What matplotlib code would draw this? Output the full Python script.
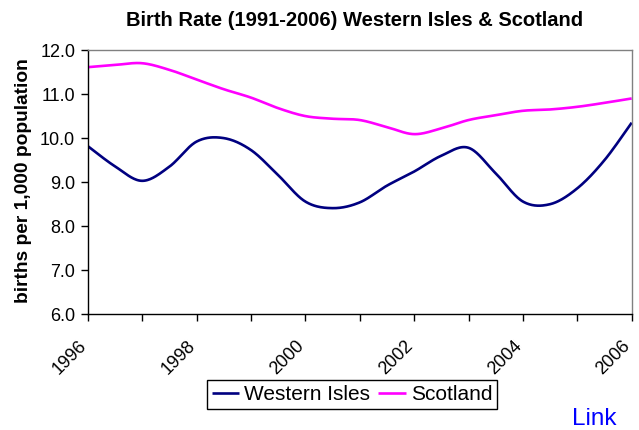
import numpy as np
import matplotlib
matplotlib.use("Agg")
import matplotlib.pyplot as plt
from matplotlib.transforms import ScaledTranslation

plt.rcParams['font.family'] = ['Liberation Sans', 'DejaVu Sans']

# ---- data (half-year readings) ----
years = [1996.0, 1996.5, 1997.0, 1997.5, 1998.0, 1998.5, 1999.0, 1999.5,
         2000.0, 2000.5, 2001.0, 2001.5, 2002.0, 2002.5, 2003.0, 2003.5,
         2004.0, 2004.5, 2005.0, 2005.5, 2006.0]
western_isles = [9.82, 9.36, 9.03, 9.35, 9.92, 10.00, 9.73, 9.16,
                 8.56, 8.41, 8.54, 8.92, 9.24, 9.60, 9.78, 9.20,
                 8.56, 8.50, 8.86, 9.50, 10.35]
scotland = [11.61, 11.66, 11.70, 11.55, 11.33, 11.11, 10.92, 10.68,
            10.50, 10.44, 10.41, 10.25, 10.09, 10.22, 10.41, 10.52,
            10.62, 10.65, 10.71, 10.80, 10.90]
tick_years = list(range(1996, 2007))
tick_labels = [str(y) if (y - 1996) % 2 == 0 else "" for y in tick_years]
y_ticks = [6.0, 7.0, 8.0, 9.0, 10.0, 11.0, 12.0]
title = "Birth Rate (1991-2006) Western Isles & Scotland"
ylabel = "births per 1,000 population"
series_names = ["Western Isles", "Scotland"]


def smooth(x, y, n=30):
    """Catmull-Rom rendering of a line through the given points."""
    x = np.asarray(x, float)
    y = np.asarray(y, float)
    px = np.concatenate([[x[0]], x, [x[-1]]])
    py = np.concatenate([[y[0]], y, [y[-1]]])
    xs, ys = [], []
    t = np.linspace(0, 1, n, endpoint=False)
    for i in range(1, len(px) - 2):
        for p, out in ((px, xs), (py, ys)):
            p0, p1, p2, p3 = p[i - 1], p[i], p[i + 1], p[i + 2]
            out.extend(0.5 * ((2 * p1) + (-p0 + p2) * t +
                              (2 * p0 - 5 * p1 + 4 * p2 - p3) * t ** 2 +
                              (-p0 + 3 * p1 - 3 * p2 + p3) * t ** 3))
    xs.append(x[-1])
    ys.append(y[-1])
    return np.array(xs), np.array(ys)


fig = plt.figure(figsize=(6.39, 4.30), dpi=100)
ax = fig.add_axes([87.7 / 639, 1 - 314.3 / 430, (631.7 - 87.7) / 639, (314.3 - 50) / 430])

sx, sy = smooth(years, western_isles)
l1, = ax.plot(sx, sy, color='#000080', lw=1.9, solid_capstyle='butt')
sx, sy = smooth(years, scotland)
l2, = ax.plot(sx, sy, color='#FF00FF', lw=1.9, solid_capstyle='butt')

ax.set_xlim(1996, 2006)
ax.set_ylim(6.0, 12.0)
ax.set_yticks(y_ticks)
ax.set_yticklabels([f"{v:.1f}" for v in y_ticks], fontsize=13)
ax.set_xticks(tick_years)
ax.set_xticklabels(tick_labels, fontsize=13, rotation=45, ha='right', va='top',
                   rotation_mode='anchor')
ax.tick_params(axis='x', direction='out', length=5, width=1, pad=11.5, color='black')
ax.tick_params(axis='y', direction='out', length=5, width=1, pad=4, color='black')
off = ScaledTranslation(-10 / 100, 0, fig.dpi_scale_trans)
for lab in ax.get_xticklabels():
    lab.set_transform(lab.get_transform() + off)

for s in ('left', 'bottom'):
    ax.spines[s].set_color('black')
    ax.spines[s].set_linewidth(1)
for s in ('top', 'right'):
    ax.spines[s].set_color('#808080')
    ax.spines[s].set_linewidth(1)

fig.text(355 / 639, 1 - 20 / 430, title, ha='center', va='center',
         fontsize=14.5, fontweight='bold')
fig.text(24 / 639, 1 - 181 / 430, ylabel, ha='center', va='center',
         rotation=90, fontsize=13.8, fontweight='bold')

leg = ax.legend([l1, l2], series_names, loc='center', ncol=2,
                bbox_to_anchor=(352 / 639, 1 - 394.5 / 430),
                bbox_transform=fig.transFigure, fontsize=15, frameon=True,
                fancybox=False, edgecolor='black', framealpha=1,
                borderpad=0.25, handlelength=1.3, handletextpad=0.25,
                columnspacing=0.4, borderaxespad=0)
leg.get_frame().set_linewidth(1)

fig.text(594 / 639, 1 - 419 / 430, "Link", color='#0000FF', fontsize=17.5,
         ha='center', va='center')

fig.savefig("out.png", dpi=100)
